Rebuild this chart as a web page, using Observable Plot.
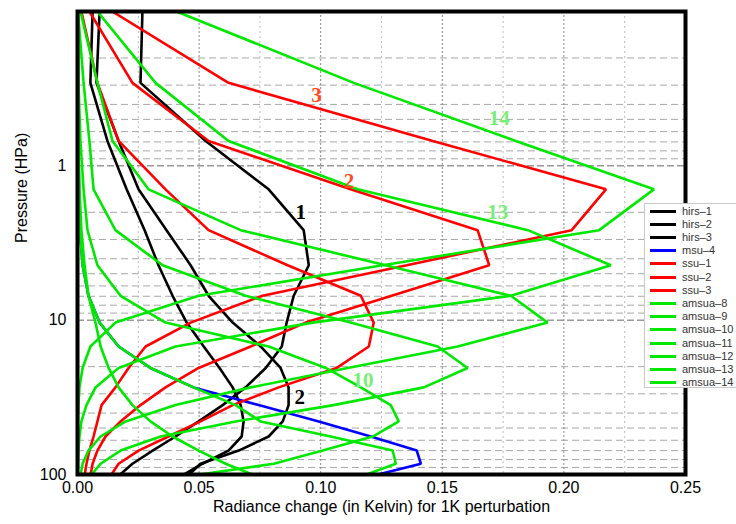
<!DOCTYPE html>
<html>
<head>
<meta charset="utf-8">
<script src="https://cdn.jsdelivr.net/npm/d3@7"></script>
<script src="https://cdn.jsdelivr.net/npm/@observablehq/plot@0.6"></script>
<style>
  html, body { margin: 0; padding: 0; background: #fff; }
  #wrap { position: relative; width: 736px; height: 524px; }
  #legend { position: absolute; left: 644px; top: 203px; width: 92px; height: 185px;
    box-sizing: border-box; border: 1px solid #c8c8c8; border-right: none; background: #fff;
    font-family: "Liberation Sans", Arial, sans-serif; font-size: 11px; color: #333; }
  .row { position: absolute; left: 0; height: 13px; line-height: 13px; white-space: nowrap; }
  .sw { position: absolute; left: 5px; top: 5px; width: 26px; height: 3px; }
  .lb { position: absolute; left: 37px; top: 0; }
</style>
</head>
<body>
<div id="wrap"><div id="legend"></div></div>
<script>
// Pressure levels (hPa) at which the weighting functions are sampled
const levels = [0.1, 0.29, 0.69, 1.42, 2.611, 4.407, 6.95, 10.37, 14.81, 20.40, 27.26, 35.51, 45.29, 56.73, 69.97, 85.18, 102.05];

// Radiance change (K) per 1K perturbation, one value per level
const hirs1  = [0.0267,0.0259,0.0527,0.0786,0.0930,0.0951,0.0889,0.0860,0.0840,0.0774,0.0691,0.0597,0.0498,0.0403,0.0309,0.0226,0.0169];
const hirs2  = [0.0091,0.0078,0.0169,0.0251,0.0366,0.0465,0.0539,0.0638,0.0753,0.0835,0.0868,0.0868,0.0844,0.0786,0.0663,0.0506,0.0453];
const hirs3  = [0.0062,0.0053,0.0123,0.0202,0.0276,0.0333,0.0391,0.0449,0.0519,0.0584,0.0638,0.0671,0.0683,0.0675,0.0621,0.0514,0.0428];
const msu4   = [0.0001,0.0002,0.0004,0.0006,0.0010,0.0021,0.0045,0.0091,0.0169,0.0300,0.0477,0.0745,0.0992,0.1206,0.1395,0.1412,0.1214];
const ssu1   = [0.0016,0.0082,0.0169,0.0362,0.0539,0.0864,0.1165,0.1218,0.1198,0.1066,0.0827,0.0638,0.0506,0.0374,0.0251,0.0169,0.0136];
const ssu2   = [0.0049,0.0226,0.0539,0.1123,0.1645,0.1693,0.1292,0.0938,0.0712,0.0498,0.0362,0.0259,0.0177,0.0115,0.0082,0.0062,0.0053];
const ssu3   = [0.0143,0.0621,0.1461,0.2173,0.2032,0.1354,0.0761,0.0465,0.0280,0.0210,0.0156,0.0099,0.0082,0.0066,0.0049,0.0037,0.0029];
const amsua8 = [0.0001,0.0002,0.0004,0.0008,0.0016,0.0029,0.0045,0.0074,0.0095,0.0128,0.0169,0.0226,0.0300,0.0391,0.0498,0.0609,0.0733];
const amsua9 = [0.0001,0.0002,0.0004,0.0006,0.0010,0.0021,0.0045,0.0091,0.0169,0.0300,0.0477,0.0650,0.0753,0.1041,0.1296,0.1309,0.1173];
const amsua10= [0.0001,0.0004,0.0012,0.0025,0.0041,0.0082,0.0177,0.0362,0.0786,0.1021,0.1165,0.1288,0.1321,0.1214,0.1008,0.0807,0.0465];
const amsua11= [0.0002,0.0025,0.0049,0.0066,0.0156,0.0350,0.0691,0.1123,0.1481,0.1604,0.1424,0.1053,0.0650,0.0342,0.0177,0.0095,0.0053];
const amsua12= [0.0012,0.0082,0.0144,0.0292,0.0671,0.1267,0.1782,0.1933,0.1563,0.1111,0.0712,0.0403,0.0198,0.0095,0.0045,0.0021,0.0012];
const amsua13= [0.0082,0.0321,0.0621,0.1152,0.1852,0.2193,0.1782,0.0967,0.0403,0.0169,0.0074,0.0037,0.0016,0.0008,0.0004,0.0002,0.0001];
const amsua14= [0.0407,0.1136,0.1802,0.2370,0.2145,0.1255,0.0498,0.0156,0.0053,0.0021,0.0008,0.0004,0.0002,0.0001,0.0001,0.0000,0.0000];

const seriesNames  = ["hirs–1","hirs–2","hirs–3","msu–4","ssu–1","ssu–2","ssu–3","amsua–8","amsua–9","amsua–10","amsua–11","amsua–12","amsua–13","amsua–14"];
const seriesColors = ["#000000","#000000","#000000","#0000ff","#ff0000","#ff0000","#ff0000","#00e800","#00e800","#00e800","#00e800","#00e800","#00e800","#00e800"];
const seriesValues = [hirs1,hirs2,hirs3,msu4,ssu1,ssu2,ssu3,amsua8,amsua9,amsua10,amsua11,amsua12,amsua13,amsua14];

// Curve annotations
const annoText   = ["3","2","1","14","13","10","2"];
const annoX      = [0.0983,0.1116,0.0918,0.1734,0.1728,0.1174,0.0914];
const annoP      = [0.35,1.26,2.0,0.49,1.99,24.6,31.6];
const annoColors = ["#ff4a1c","#ff4a1c","#000000","#77ee77","#77ee77","#77ee77","#000000"];

const xTicks = [0, 0.05, 0.10, 0.15, 0.20, 0.25];
const yTicks = [1, 10, 100];
const xGridMinor = [0.025, 0.075, 0.125, 0.175, 0.225];
const xGridMajor = [0.05, 0.10, 0.15, 0.20];
const yGridMinor = [0.2,0.3,0.4,0.5,0.6,0.7,0.8,0.9,2,3,4,5,6,7,8,9,20,30,40,50,60,70,80,90];
const yGridMajor = [1, 10];

const xTitle = "Radiance change (in Kelvin) for 1K perturbation";
const yTitle = "Pressure (HPa)";

const rows = seriesNames.flatMap((name, i) => seriesValues[i].map((v, j) => ({name, p: levels[j], v})));
const annos = annoText.map((t, i) => ({t, x: annoX[i], p: annoP[i], c: annoColors[i]}));

const lineMarks = seriesNames.map((name, i) =>
  Plot.line(rows.filter(d => d.name === name), {x: "v", y: "p", stroke: seriesColors[i], strokeWidth: 2.6, clip: true, strokeLinejoin: "miter"}));

const chart = Plot.plot({
  width: 736, height: 524,
  marginLeft: 77, marginRight: 51, marginTop: 11, marginBottom: 50,
  style: {fontFamily: "'Liberation Sans', Arial, sans-serif", fontSize: "16px", background: "#fff", color: "#000"},
  x: {domain: [0, 0.25]},
  y: {type: "log", domain: [0.1, 100], reverse: true},
  marks: [
    Plot.ruleY(yGridMinor, {stroke: "#a8a8a8", strokeDasharray: "7,4", strokeWidth: 1}),
    Plot.ruleY(yGridMajor, {stroke: "#666", strokeDasharray: "7,3", strokeWidth: 1}),
    Plot.ruleX(xGridMinor, {stroke: "#bdbdbd", strokeDasharray: "2,3", strokeWidth: 1}),
    Plot.ruleX(xGridMajor, {stroke: "#888", strokeDasharray: "2,2", strokeWidth: 1}),
    ...lineMarks,
    Plot.text(annos, {x: "x", y: "p", text: "t", fill: "c", fontFamily: "'Liberation Serif', 'Times New Roman', serif", fontWeight: "bold", fontSize: 21}),
    Plot.frame({stroke: "#000", strokeWidth: 4}),
    Plot.axisX({ticks: xTicks, tickFormat: d3.format(".2f"), tickSize: 0, tickPadding: 7, label: null}),
    Plot.axisY({ticks: yTicks, tickFormat: d => String(d), tickSize: 0, tickPadding: 11, label: null}),
    Plot.text([xTitle], {frameAnchor: "bottom", dy: 37, fontSize: 16}),
    Plot.text([yTitle], {frameAnchor: "left", rotate: -90, dx: -56, fontSize: 16})
  ]
});
document.getElementById("wrap").prepend(chart);

const legend = document.getElementById("legend");
seriesNames.forEach((name, i) => {
  const r = document.createElement("div");
  r.className = "row";
  r.style.top = (i * 13.2 + 0.5) + "px";
  r.innerHTML = `<span class="sw" style="background:${seriesColors[i]}"></span><span class="lb">${name}</span>`;
  legend.appendChild(r);
});
</script>
</body>
</html>
